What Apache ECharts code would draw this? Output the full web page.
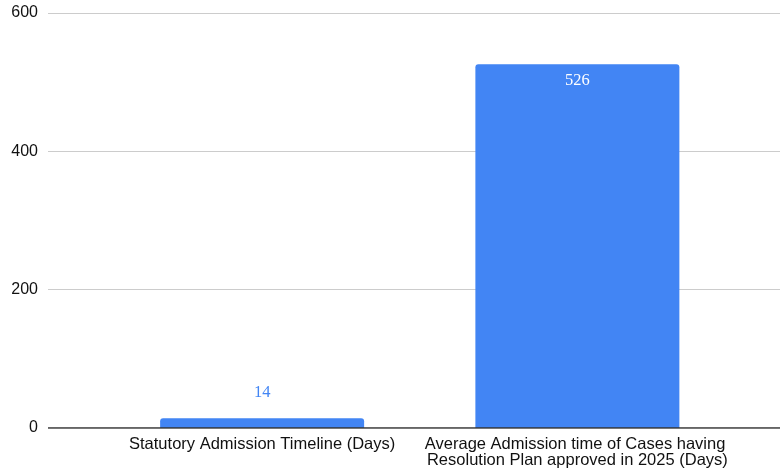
<!DOCTYPE html>
<html>
<head>
<meta charset="utf-8">
<script src="https://cdn.jsdelivr.net/npm/echarts@6/dist/echarts.min.js"></script>
<style>
  html, body { margin: 0; padding: 0; background: #fff; }
  #main { width: 780px; height: 474px; }
</style>
</head>
<body>
<div id="main"></div>
<script>
var categories = [
    'Statutory Admission Timeline (Days)',
    'Average Admission time of Cases having Resolution Plan approved in 2025 (Days)'
];
var days = [14, 526];
var yMax = 600;
var yStep = 200;

var myChart = echarts.init(document.getElementById('main'));
var option;

option = {
    animation: false,
    grid: [
        { left: 48, right: 0, top: 13, bottom: 46 },
        { left: 104.5, right: 45, top: 13, bottom: 46 }
    ],
    xAxis: [
        {
            gridIndex: 0, type: 'value', min: 0, max: 1,
            axisLine: { show: false }, axisTick: { show: false },
            axisLabel: { show: false }, splitLine: { show: false }
        },
        {
            gridIndex: 1, type: 'category', data: categories,
            axisLine: { show: false }, axisTick: { show: false },
            axisLabel: {
                interval: 0, margin: 8, color: '#111',
                fontFamily: 'Liberation Sans', fontSize: 16.5,
                lineHeight: 16, width: 320, overflow: 'break'
            }
        }
    ],
    yAxis: [
        {
            gridIndex: 0, type: 'value', min: 0, max: yMax, interval: yStep,
            axisLine: { show: false }, axisTick: { show: false },
            axisLabel: { margin: 10, color: '#111', fontFamily: 'Liberation Sans', fontSize: 16 },
            splitLine: { lineStyle: { color: '#cccccc', width: 1 } }
        },
        {
            gridIndex: 1, type: 'value', min: 0, max: yMax, interval: yStep,
            axisLine: { show: false }, axisTick: { show: false },
            axisLabel: { show: false }, splitLine: { show: false }
        }
    ],
    series: [
        {
            // baseline across the full width
            type: 'line', xAxisIndex: 0, yAxisIndex: 0,
            data: [[0, 0], [1, 0]], symbol: 'none', silent: true,
            lineStyle: { color: '#333', width: 1.5 }, z: 5
        },
        {
            type: 'bar', xAxisIndex: 1, yAxisIndex: 1,
            barWidth: 204,
            itemStyle: { color: '#4285f4', borderRadius: [3, 3, 0, 0] },
            label: { show: true, fontFamily: 'Liberation Serif', fontSize: 16.5 },
            // small bar gets its label above, tall bar inside
            data: days.map(function (v, i) {
                return {
                    value: v,
                    label: i === 0
                        ? { position: 'top', distance: 17, color: '#4285f4' }
                        : { position: 'insideTop', distance: 8, color: '#ffffff' }
                };
            })
        }
    ]
};

option && myChart.setOption(option);
</script>
</body>
</html>
